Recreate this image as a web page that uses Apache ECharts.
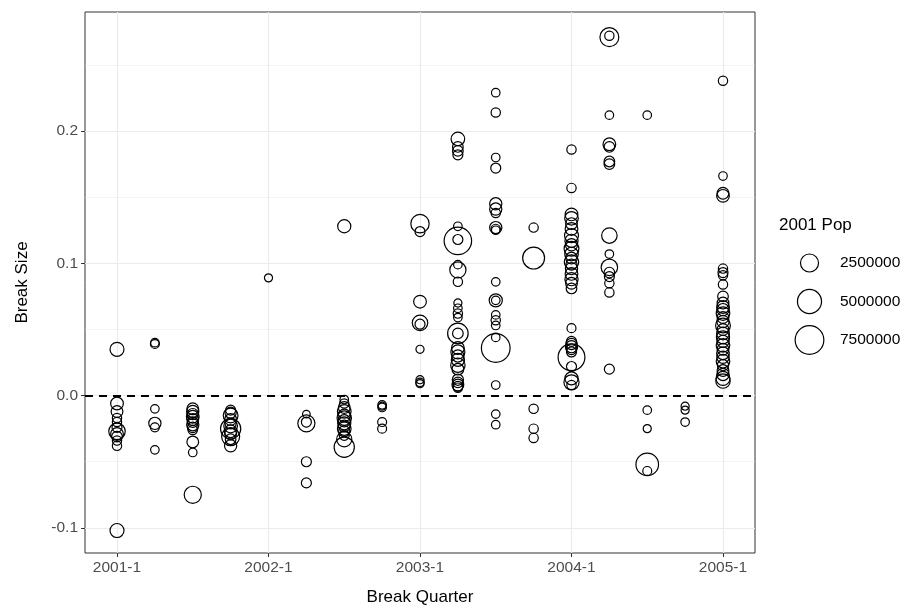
<!DOCTYPE html>
<html><head><meta charset="utf-8">
<script src="https://cdn.jsdelivr.net/npm/echarts@6/dist/echarts.min.js"></script>
<style>html,body{margin:0;padding:0;background:#fff}#c{width:917px;height:614px}</style>
</head><body><div id="c"></div>
<script>
const quarters = ['2001-1','2001-2','2001-3','2001-4','2002-1','2002-2','2002-3','2002-4',
  '2003-1','2003-2','2003-3','2003-4','2004-1','2004-2','2004-3','2004-4','2005-1'];

// break sizes, grouped by quarter (same order as quarters)
const breakSize = [
  [0.035,-0.102,-0.006,-0.012,-0.017,-0.020,-0.024,-0.027,-0.029,-0.031,-0.034,-0.038],
  [0.040,0.039,-0.010,-0.021,-0.024,-0.041],
  [-0.010,-0.012,-0.014,-0.016,-0.018,-0.020,-0.022,-0.024,-0.026,-0.035,-0.043,-0.075],
  [-0.011,-0.013,-0.015,-0.018,-0.021,-0.023,-0.025,-0.027,-0.029,-0.031,-0.033,-0.038],
  [0.089],
  [-0.014,-0.020,-0.021,-0.050,-0.066],
  [0.128,-0.003,-0.006,-0.009,-0.012,-0.015,-0.017,-0.019,-0.021,-0.023,-0.025,-0.027,-0.030,-0.033,-0.039],
  [-0.007,-0.008,-0.009,-0.020,-0.025],
  [0.130,0.124,0.071,0.055,0.054,0.035,0.012,0.010,0.009],
  [0.194,0.188,0.185,0.182,0.128,0.117,0.118,0.099,0.095,0.086,0.070,0.066,0.062,0.059,0.047,0.047,0.036,0.033,0.030,0.027,0.023,0.020,0.012,0.010,0.008,0.007,0.006],
  [0.229,0.214,0.180,0.172,0.145,0.141,0.138,0.127,0.126,0.125,0.086,0.072,0.072,0.061,0.057,0.053,0.044,0.036,0.008,-0.014,-0.022],
  [0.127,0.104,-0.010,-0.025,-0.032],
  [0.186,0.157,0.137,0.134,0.130,0.126,0.121,0.117,0.114,0.111,0.107,0.104,0.101,0.099,0.096,0.092,0.088,0.085,0.081,0.051,0.041,0.039,0.037,0.035,0.033,0.029,0.022,0.013,0.010,0.008],
  [0.272,0.271,0.212,0.190,0.188,0.177,0.175,0.121,0.107,0.097,0.093,0.090,0.085,0.078,0.020],
  [0.212,-0.011,-0.025,-0.052,-0.057],
  [-0.008,-0.011,-0.020],
  [0.238,0.166,0.153,0.151,0.096,0.093,0.091,0.084,0.075,0.070,0.067,0.065,0.062,0.059,0.056,0.053,0.050,0.047,0.044,0.041,0.038,0.035,0.032,0.029,0.026,0.023,0.019,0.016,0.013,0.011]
];

// 2001 population in millions, same shape as breakSize
const pop2001M = [
  [1.3,1.3,1.0,0.8,0.4,0.4,0.5,2.0,1.0,0.6,0.4,0.4],
  [0.3,0.35,0.3,0.9,0.35,0.3],
  [0.8,0.9,0.7,1.0,0.8,0.6,0.9,0.6,0.4,0.8,0.3,2.2],
  [0.5,0.7,1.5,0.8,0.7,1.2,3.3,1.0,0.8,2.5,0.6,0.9],
  [0.25],
  [0.2,0.5,2.2,0.5,0.5],
  [1.1,0.3,0.4,0.8,1.2,1.0,1.4,0.9,1.1,0.8,1.2,0.7,0.5,1.6,3.3],
  [0.3,0.25,0.3,0.35,0.35],
  [2.6,0.5,1.0,1.7,0.5,0.25,0.25,0.3,0.25],
  [1.2,0.6,0.6,0.5,0.3,6.8,0.5,0.3,1.9,0.4,0.25,0.3,0.4,0.3,3.4,0.6,1.0,1.3,0.9,1.1,1.4,0.8,0.7,0.6,0.8,0.5,0.4],
  [0.3,0.4,0.3,0.5,0.9,0.9,0.4,0.9,0.4,0.3,0.3,1.1,0.3,0.3,0.4,0.3,0.3,7.5,0.3,0.3,0.3],
  [0.4,4.0,0.4,0.4,0.4],
  [0.4,0.4,1.0,1.2,0.8,1.0,1.3,1.1,0.9,1.5,1.2,0.8,1.4,0.7,0.9,1.0,1.1,0.8,0.6,0.35,0.5,0.7,0.9,0.6,0.5,6.4,0.5,1.1,1.6,0.4],
  [0.4,2.8,0.3,1.0,0.6,0.6,0.6,1.7,0.3,2.0,0.6,0.5,0.4,0.4,0.5],
  [0.3,0.3,0.25,4.3,0.35],
  [0.25,0.25,0.3],
  [0.4,0.3,0.8,1.0,0.4,0.5,0.4,0.4,0.6,0.8,1.0,0.9,1.2,0.8,0.9,1.5,0.8,1.0,1.1,0.9,1.2,0.8,1.0,0.9,1.2,0.7,0.8,0.9,1.3,1.4]
];

const xTickLabels = ['2001-1','2002-1','2003-1','2004-1','2005-1'];
const yTicks = [-0.1, 0, 0.1, 0.2];
const yMinorTicks = [-0.05, 0.05, 0.15, 0.25];
const legendPops = [2500000, 5000000, 7500000];

function diam(popM) { return 4.5 + 9.2 * Math.sqrt(popM); }

const points = [];
breakSize.forEach((arr, qi) => arr.forEach((v, j) => points.push([qi, v, pop2001M[qi][j]])));
const xTickVals = xTickLabels.map(l => quarters.indexOf(l));

const FONT = "'Liberation Sans', Arial, Helvetica, sans-serif";
const TICK_FS = 15.5, TITLE_FS = 17;
const GRID = { left: 85, right: 162, top: 12, bottom: 61 };
const chart = echarts.init(document.getElementById('c'), null, { renderer: 'canvas' });

const legendGraphics = [{
  type: 'text', x: 779, y: 225,
  style: { text: '2001 Pop', fontSize: TITLE_FS, fontFamily: FONT, fill: '#000', verticalAlign: 'middle', align: 'left' }
}];
legendPops.forEach((p, i) => {
  const cy = 263 + i * 38.5;
  const r = (diam(p / 1e6) - 1) / 2;
  legendGraphics.push({
    type: 'circle', shape: { cx: 809.5, cy: cy, r: r },
    style: { fill: 'none', stroke: '#000', lineWidth: 1.2 }
  });
  legendGraphics.push({
    type: 'text', x: 840, y: cy,
    style: { text: String(p), fontSize: TICK_FS, fontFamily: FONT, fill: '#000', verticalAlign: 'middle', align: 'left' }
  });
});

chart.setOption({
  animation: false,
  backgroundColor: '#fff',
  textStyle: { fontFamily: FONT },
  grid: Object.assign({ show: true, borderColor: '#333', borderWidth: 1, backgroundColor: 'transparent' }, GRID),
  xAxis: {
    type: 'value', min: -0.845, max: 16.845,
    axisLine: { show: false, onZero: false },
    axisTick: { show: true, inside: false, customValues: xTickVals, length: 4, lineStyle: { color: '#333', width: 1 } },
    axisLabel: { customValues: xTickVals, formatter: v => quarters[Math.round(v)], color: '#4D4D4D', fontSize: TICK_FS, fontFamily: FONT, margin: 7 },
    splitLine: { show: true, lineStyle: { color: '#EBEBEB', width: 1.2 } },
    name: 'Break Quarter', nameLocation: 'middle', nameGap: 36,
    nameTextStyle: { fontSize: TITLE_FS, color: '#000', fontFamily: FONT }
  },
  yAxis: [{
    type: 'value', min: -0.119, max: 0.290,
    axisLine: { show: false, onZero: false },
    axisTick: { show: true, inside: false, customValues: yTicks, length: 4, lineStyle: { color: '#333', width: 1 } },
    axisLabel: { customValues: yTicks, formatter: v => v.toFixed(1), color: '#4D4D4D', fontSize: TICK_FS, fontFamily: FONT, margin: 7 },
    splitLine: { show: true, lineStyle: { color: '#EBEBEB', width: 1.2 } },
    name: 'Break Size', nameLocation: 'middle', nameGap: 54,
    nameTextStyle: { fontSize: TITLE_FS, color: '#000', fontFamily: FONT }
  }, {
    type: 'value', min: -0.119, max: 0.290, position: 'left',
    axisLine: { show: false, onZero: false },
    axisTick: { show: false, customValues: yMinorTicks },
    axisLabel: { show: false, customValues: yMinorTicks },
    splitLine: { show: true, lineStyle: { color: '#EBEBEB', width: 0.6 } }
  }],
  graphic: legendGraphics,
  series: [{
    type: 'scatter',
    data: points,
    symbol: 'circle',
    symbolSize: v => diam(v[2]) - 1,
    itemStyle: { color: 'rgba(0,0,0,0)', borderColor: '#000', borderWidth: 1.2, opacity: 1 },
    emphasis: { disabled: true },
    silent: true,
    z: 3,
    markLine: {
      silent: true, symbol: 'none', animation: false,
      label: { show: false },
      lineStyle: { type: [8, 6], color: '#000', width: 1.8 },
      data: [{ yAxis: 0 }]
    }
  }]
});
</script>
</body></html>
